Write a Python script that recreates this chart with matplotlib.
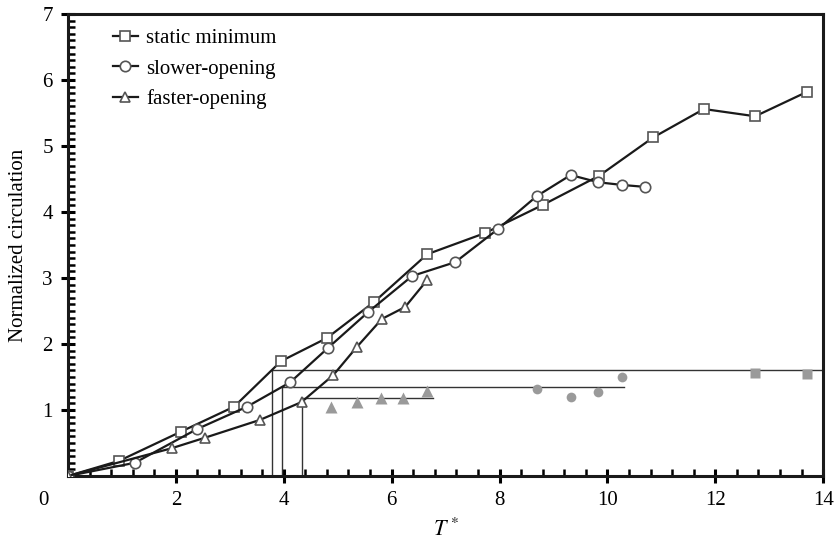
import matplotlib
matplotlib.use("Agg")
import matplotlib.pyplot as plt
from matplotlib.ticker import MultipleLocator
import numpy as np

plt.rcParams['font.family'] = ['Liberation Serif', 'DejaVu Serif']
plt.rcParams['mathtext.fontset'] = 'stix'

# ── data ──
static_x = [0, 0.95, 2.09, 3.08, 3.95, 4.80, 5.68, 6.66, 7.73, 8.81, 9.85, 10.85, 11.79, 12.74, 13.70]
static_y = [0, 0.23, 0.67, 1.05, 1.74, 2.09, 2.64, 3.36, 3.68, 4.11, 4.55, 5.13, 5.56, 5.45, 5.82]

slower_x = [0, 1.24, 2.39, 3.32, 4.12, 4.82, 5.56, 6.38, 7.18, 7.97, 8.69, 9.32, 9.83, 10.27, 10.70]
slower_y = [0, 0.20, 0.71, 1.05, 1.42, 1.94, 2.48, 3.03, 3.24, 3.74, 4.24, 4.56, 4.45, 4.41, 4.38]

faster_x = [0, 1.92, 2.54, 3.56, 4.33, 4.92, 5.35, 5.82, 6.25, 6.66]
faster_y = [0, 0.42, 0.58, 0.85, 1.12, 1.53, 1.95, 2.38, 2.56, 2.97]

# grey filled points (pinch-off values)
faster_pt_x = [4.87, 5.35, 5.80, 6.22, 6.66]
faster_pt_y = [1.05, 1.12, 1.18, 1.18, 1.29]
slower_pt_x = [8.69, 9.32, 9.83, 10.27]
slower_pt_y = [1.32, 1.20, 1.27, 1.50]
static_pt_x = [12.74, 13.70]
static_pt_y = [1.56, 1.55]

# pinch-off reference levels: (T* start, level, T* end)
ref_start = [3.78, 3.96, 4.34]
ref_level = [1.60, 1.35, 1.18]
ref_end = [14.0, 10.31, 6.77]

fig = plt.figure(figsize=(8.34, 5.48), dpi=100)
ax = fig.add_axes([0.0815, 0.1314, 0.9055, 0.8431])

line_kw = dict(color="#1a1a1a", lw=1.6, markersize=7.5, markerfacecolor="white",
               markeredgecolor="#555555", markeredgewidth=1.2)
ax.plot(static_x, static_y, marker="s", label="static minimum", zorder=4, **line_kw)
ax.plot(slower_x, slower_y, marker="o", label="slower-opening", zorder=4, **line_kw)
ax.plot(faster_x, faster_y, marker="^", label="faster-opening", zorder=4, **line_kw)

# reference lines
for xs, lv, xe in zip(ref_start, ref_level, ref_end):
    ax.plot([xs, xs], [0, lv], color="#333333", lw=1.0, zorder=2)
    ax.plot([xs, xe], [lv, lv], color="#333333", lw=1.0, zorder=2)

grey = "#9a9a9a"
ax.plot(faster_pt_x, faster_pt_y, "^", color=grey, markersize=8.5, mec="none", zorder=3)
ax.plot(slower_pt_x, slower_pt_y, "o", color=grey, markersize=7, mec="none", zorder=3)
ax.plot(static_pt_x, static_pt_y, "s", color=grey, markersize=7, mec="none", zorder=3)

ax.set_xlim(0, 14)
ax.set_ylim(0, 7)
ax.xaxis.set_major_locator(MultipleLocator(2))
ax.xaxis.set_minor_locator(MultipleLocator(0.4))
ax.yaxis.set_major_locator(MultipleLocator(1))
ax.yaxis.set_minor_locator(MultipleLocator(0.1))
ax.set_xticks(np.arange(2, 15, 2))
ax.set_yticks(np.arange(1, 8, 1))
ax.tick_params(which="major", direction="inout", length=10, width=2.2, labelsize=15, pad=6)
ax.tick_params(which="minor", direction="in", length=5, width=1.8)
ax.tick_params(top=False, right=False)
for s in ax.spines.values():
    s.set_linewidth(2.2)
    s.set_color("#1a1a1a")

ax.text(-0.032, -0.052, "0", transform=ax.transAxes, fontsize=15, ha="center", va="center")

ax.set_xlabel(r"$T^*$", fontsize=16, labelpad=6)
ax.set_ylabel("Normalized circulation", fontsize=15, labelpad=10)

ax.legend(loc="upper left", bbox_to_anchor=(0.04, 1.0), frameon=False, fontsize=15,
          handlelength=1.2, handletextpad=0.4, labelspacing=0.52, borderaxespad=0.3)

fig.savefig("out.png", dpi=100)
